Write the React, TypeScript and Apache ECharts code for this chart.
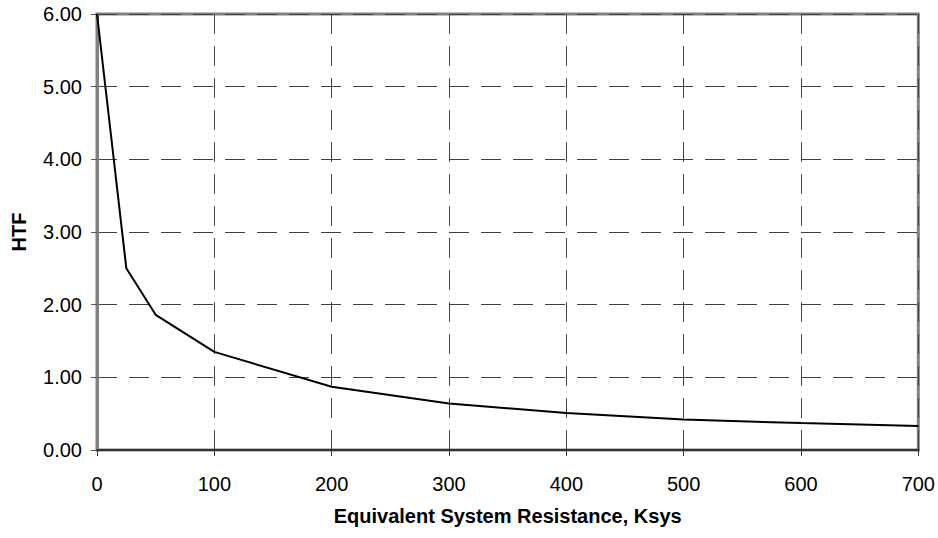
import React, { useEffect, useRef } from "react";
import * as echarts from "echarts";

const ksys = [0, 25, 50, 100, 200, 300, 400, 500, 600, 700];
const htf = [6.0, 2.5, 1.86, 1.35, 0.87, 0.64, 0.51, 0.42, 0.37, 0.33];
const xTitle = "Equivalent System Resistance, Ksys";
const yTitle = "HTF";

export default function App() {
  const ref = useRef<HTMLDivElement>(null);
  useEffect(() => {
    if (!ref.current) return;
    const chart = echarts.init(ref.current, null, { renderer: "svg" });
    const font = "'Liberation Sans', Arial, sans-serif";
    chart.setOption({
      animation: false,
      backgroundColor: "#ffffff",
      grid: {
        left: 97,
        right: 19,
        top: 14,
        bottom: 88,
        show: true,
        borderColor: "#808080",
        borderWidth: 3,
      },
      xAxis: {
        type: "value",
        min: 0,
        max: 700,
        interval: 100,
        name: xTitle,
        nameLocation: "middle",
        nameGap: 56,
        nameTextStyle: { fontFamily: font, fontSize: 20, fontWeight: "bold", color: "#000" },
        axisLine: { show: true, onZero: false, lineStyle: { color: "#333", width: 2 } },
        axisTick: { show: true, length: 6, lineStyle: { color: "#333", width: 1 } },
        axisLabel: { fontFamily: font, fontSize: 20, color: "#000", margin: 24 },
        splitLine: { show: true, lineStyle: { color: "#404040", width: 1, type: [20, 12] } },
      },
      yAxis: {
        type: "value",
        min: 0,
        max: 6,
        interval: 1,
        name: yTitle,
        nameLocation: "middle",
        nameGap: 68,
        nameRotate: 90,
        nameTextStyle: { fontFamily: font, fontSize: 20, fontWeight: "bold", color: "#000" },
        axisLine: { show: true, lineStyle: { color: "#808080", width: 3 } },
        axisTick: { show: true, length: 6, lineStyle: { color: "#555", width: 1 } },
        axisLabel: {
          fontFamily: font,
          fontSize: 20,
          color: "#000",
          margin: 15,
          formatter: (v: number) => v.toFixed(2),
        },
        splitLine: { show: true, lineStyle: { color: "#404040", width: 1, type: [20, 12] } },
      },
      series: [
        {
          type: "line",
          data: ksys.map((x, i) => [x, htf[i]]),
          symbol: "none",
          lineStyle: { color: "#000", width: 2 },
        },
      ],
    });
    return () => chart.dispose();
  }, []);
  return (
    <div
      ref={ref}
      style={{ position: "absolute", left: 0, top: 0, width: 938, height: 538 }}
    />
  );
}
